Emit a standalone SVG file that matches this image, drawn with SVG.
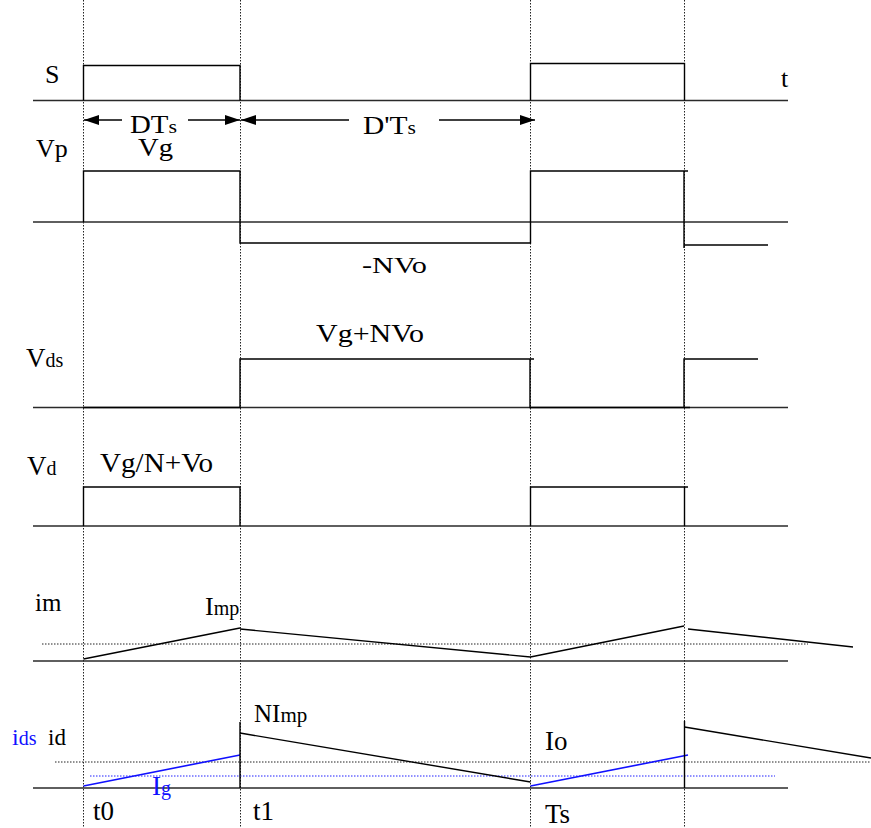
<svg xmlns="http://www.w3.org/2000/svg" width="871" height="828" viewBox="0 0 871 828">
<defs>
<style>
.axis{stroke:#2a2a2a;stroke-width:1.6;fill:none}
.wave{stroke:#000;stroke-width:1.4;fill:none}
.blue{stroke:#1010ff;stroke-width:1.6;fill:none}
.dot{stroke:#222;stroke-width:1;stroke-dasharray:1.5 1.5;fill:none}
.bdot{stroke:#2020ff;stroke-width:1;stroke-dasharray:1.5 1.5;fill:none}
.arr{stroke:#000;stroke-width:1.4;fill:none}
text{font-family:"Liberation Serif","Times New Roman",Times,serif;fill:#000}
.bt{fill:#1010ff}
</style>
<marker id="ah" markerUnits="userSpaceOnUse" markerWidth="16" markerHeight="12" refX="15" refY="5" orient="auto">
<path d="M0,0 L15,5 L0,10 Z" fill="#000"/>
</marker>
</defs>
<rect width="871" height="828" fill="#fff"/>

<g id="guides">
<line class="dot" x1="83.5" y1="0" x2="83.5" y2="828"/>
<line class="dot" x1="240.5" y1="0" x2="240.5" y2="828"/>
<line class="dot" x1="530.5" y1="0" x2="530.5" y2="828"/>
<line class="dot" x1="684.5" y1="0" x2="684.5" y2="828"/>
</g>

<g id="S" font-size="26">
<line class="axis" x1="33" y1="100.5" x2="788" y2="100.5"/>
<polyline class="wave" points="83.5,100.5 83.5,65.5 240,65.5 240,100.5"/>
<polyline class="wave" points="530.5,100.5 530.5,63.5 684.5,63.5 684.5,100.5"/>
<text x="45" y="83" font-size="26">S</text>
<text x="781" y="87" font-size="26">t</text>
</g>

<g id="intervals">
<line class="arr" x1="122" y1="120" x2="84" y2="120" marker-end="url(#ah)"/>
<line class="arr" x1="188" y1="120" x2="240" y2="120" marker-end="url(#ah)"/>
<line class="arr" x1="349" y1="120" x2="241" y2="120" marker-end="url(#ah)"/>
<line class="arr" x1="439" y1="120" x2="535" y2="120" marker-end="url(#ah)"/>
<text x="130" y="133" font-size="25" textLength="47" lengthAdjust="spacingAndGlyphs">DT<tspan font-size="19">s</tspan></text>
<text x="363" y="134" font-size="26" textLength="53" lengthAdjust="spacingAndGlyphs">D'T<tspan font-size="19">s</tspan></text>
</g>

<g id="Vp">
<line class="axis" x1="33" y1="222" x2="788" y2="222"/>
<polyline class="wave" points="83.5,222 83.5,171 240,171 240,243 530.5,243 530.5,171 688,171"/>
<polyline class="wave" points="684,171 684,248"/>
<line class="wave" x1="684" y1="245" x2="768" y2="245"/>
<text x="36" y="157" font-size="26">Vp</text>
<text x="138" y="156" font-size="26" textLength="35" lengthAdjust="spacingAndGlyphs">Vg</text>
<text x="362" y="273" font-size="23" textLength="65" lengthAdjust="spacingAndGlyphs">-NVo</text>
</g>

<g id="Vds">
<line class="axis" x1="33" y1="407.5" x2="788" y2="407.5"/>
<polyline class="wave" points="83.5,407.5 240,407.5 240,359 534,359"/>
<polyline class="wave" points="530,359 530,407.5 690,407.5"/>
<polyline class="wave" points="684,407.5 684,359 758,359"/>
<text x="26" y="367" font-size="27">V<tspan font-size="20">ds</tspan></text>
<text x="316" y="342" font-size="25" textLength="108" lengthAdjust="spacingAndGlyphs">Vg+NVo</text>
</g>

<g id="Vd">
<line class="axis" x1="33" y1="526" x2="788" y2="526"/>
<polyline class="wave" points="83.5,526 83.5,487 240,487 240,526"/>
<polyline class="wave" points="530.5,526 530.5,487 688,487"/>
<line class="wave" x1="684.5" y1="487" x2="684.5" y2="526"/>
<text x="27" y="475" font-size="27">V<tspan font-size="20">d</tspan></text>
<text x="100" y="472" font-size="27" textLength="113" lengthAdjust="spacingAndGlyphs">Vg/N+Vo</text>
</g>

<g id="im">
<line class="axis" x1="33" y1="661" x2="788" y2="661"/>
<line class="dot" x1="42" y1="644" x2="808" y2="644"/>
<polyline class="wave" points="83.5,659 240,628"/>
<polyline class="wave" points="240,629 530.5,657 684,626"/>
<polyline class="wave" points="688,629 853,647"/>
<text x="35" y="611" font-size="25">im</text>
<text x="205" y="615" font-size="26">I<tspan font-size="20">mp</tspan></text>
</g>

<g id="ids">
<line class="axis" x1="33" y1="788" x2="788" y2="788"/>
<line class="dot" x1="55" y1="762" x2="871" y2="762"/>
<line class="bdot" x1="90" y1="776" x2="775" y2="776"/>
<polyline class="blue" points="83.5,786 240,755"/>
<polyline class="blue" points="530.5,786 688,755"/>
<line class="wave" x1="240" y1="722" x2="240" y2="788"/>
<polyline class="wave" points="240,733 530.5,782"/>
<line class="wave" x1="684.5" y1="721" x2="684.5" y2="788"/>
<polyline class="wave" points="684.5,727 871,758"/>
<text class="bt" x="12" y="745" font-size="24">i<tspan font-size="20">ds</tspan></text>
<text x="48" y="745" font-size="23">id</text>
<text x="254" y="722" font-size="25">NI<tspan font-size="21">mp</tspan></text>
<text class="bt" x="152" y="795" font-size="27">I<tspan font-size="20">g</tspan></text>
<text x="545" y="750" font-size="27">Io</text>
<text x="93" y="820" font-size="27">t0</text>
<text x="253" y="820" font-size="27">t1</text>
<text x="545" y="823" font-size="27">Ts</text>
</g>
</svg>
